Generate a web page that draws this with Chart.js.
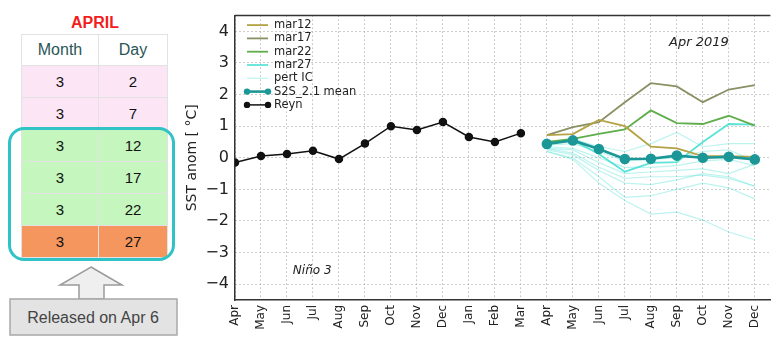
<!DOCTYPE html>
<html>
<head>
<meta charset="utf-8">
<script src="https://cdn.jsdelivr.net/npm/chart.js@4.4.0/dist/chart.umd.min.js"></script>
<style>
  html, body { margin: 0; padding: 0; width: 777px; height: 337px; overflow: hidden; background: #fff; }
  body { position: relative; font-family: "Liberation Sans", Arial, sans-serif; }
  #monthTitle { position: absolute; left: 20px; top: 14px; width: 150px; text-align: center;
    color: #f41c1c; font-weight: bold; font-size: 16px; }
  #dates { position: absolute; left: 21px; top: 34px; border-collapse: collapse; table-layout: fixed; }
  #dates th, #dates td { padding: 0; border: 1px solid #e2e2e2; text-align: center; font-size: 15px; }
  #dates th { height: 30px; font-weight: normal; color: #2b5656; background: #fff; font-size: 16px; }
  #dates td { height: 31px; color: #111; }
  #releaseBox { position: absolute; left: 8px; top: 127px; width: 167px; height: 134px;
    box-sizing: border-box; border: 3.5px solid #2fc3c6; border-radius: 16px; }
  #release { position: absolute; left: 0; top: 260px; }
  #plot { position: absolute; left: 175px; top: 0; }
</style>
</head>
<body>
<div id="monthTitle">APRIL</div>
<table id="dates">
  <colgroup><col style="width:77px"><col style="width:69px"></colgroup>
  <thead><tr><th>Month</th><th>Day</th></tr></thead>
  <tbody id="dateRows"></tbody>
</table>
<div id="releaseBox"></div>
<svg id="release" width="190" height="77">
  <path d="M91 7 L122 25 L104 25 L104 39 L79 39 L79 25 L60 25 Z" fill="#efefef" stroke="#9a9a9a" stroke-width="1.5"/>
  <rect x="10" y="39" width="167" height="36" fill="#e3e3e3" stroke="#a8a8a8" stroke-width="1.5"/>
  <text x="93" y="63" text-anchor="middle" font-family="Liberation Sans, Arial, sans-serif" font-size="16" fill="#444">Released on Apr 6</text>
</svg>
<canvas id="plot" width="602" height="337"></canvas>

<script>
// initial-condition dates feeding the April forecast
const icMonths = [3, 3, 3, 3, 3, 3];
const icDays = [2, 7, 12, 17, 22, 27];
const icRowColors = ['#fce6f6', '#fce6f6', '#c4f6bd', '#c4f6bd', '#c4f6bd', '#f5965e'];

// Niño 3 SST anomaly, Apr 2018 .. Dec 2019
const monthLabels = ['Apr', 'May', 'Jun', 'Jul', 'Aug', 'Sep', 'Oct', 'Nov', 'Dec', 'Jan', 'Feb', 'Mar',
                     'Apr', 'May', 'Jun', 'Jul', 'Aug', 'Sep', 'Oct', 'Nov', 'Dec'];
const yTickValues = [-4, -3, -2, -1, 0, 1, 2, 3, 4];
const reynValues = [-0.15, 0.06, 0.12, 0.22, -0.04, 0.45, 1.0, 0.88, 1.13, 0.66, 0.5, 0.78];

// forecasts start in Apr 2019 (index 12)
const forecastStart = 12;
const meanValues = [0.44, 0.55, 0.28, -0.04, -0.03, 0.07, 0.0, 0.03, -0.05];
const mar12Values = [0.72, 0.75, 1.2, 1.0, 0.35, 0.3, 0.05, 0.05, 0.03];
const mar17Values = [0.72, 0.97, 1.13, 1.76, 2.36, 2.26, 1.76, 2.16, 2.3];
const mar22Values = [0.5, 0.6, 0.76, 0.9, 1.5, 1.1, 1.07, 1.33, 1.02];
const mar27Values = [0.45, 0.55, 0.12, -0.44, -0.16, -0.14, 0.5, 1.07, 1.05];
const pertRuns = [
    [0.45, 0.6, 0.35, 0.2, 0.45, 0.8, 0.35, 0.45, 0.45],
    [0.4, 0.45, 0.2, -0.1, -0.05, 0.0, 0.2, 0.25, -0.1],
    [0.35, 0.3, 0.0, -0.3, -0.3, -0.25, -0.1, -0.05, -0.25],
    [0.3, 0.25, -0.15, -0.5, -0.45, -0.4, -0.35, -0.5, -0.2],
    [0.3, 0.15, -0.3, -0.65, -0.6, -0.6, -0.55, -0.65, -0.9],
    [0.25, 0.1, -0.4, -0.8, -0.85, -0.7, -0.5, -0.6, -0.9],
    [0.2, 0.0, -0.6, -1.25, -1.2, -1.0, -0.8, -0.95, -1.3],
    [0.2, -0.05, -0.8, -1.35, -1.78, -1.72, -1.97, -2.35, -2.6]
];

const tbody = document.getElementById('dateRows');
icMonths.forEach((m, i) => {
    const tr = document.createElement('tr');
    tr.style.background = icRowColors[i];
    tr.innerHTML = '<td>' + m + '</td><td>' + icDays[i] + '</td>';
    tbody.appendChild(tr);
});

const toPoints = (vals, start) => vals.map((v, i) => ({ x: start + i, y: v }));

const lineSet = (label, vals, start, color, width) => ({
    label: label,
    data: toPoints(vals, start),
    borderColor: color,
    backgroundColor: color,
    borderWidth: width,
    pointRadius: 0,
    tension: 0
});

const meanSet = lineSet('S2S_2.1 mean', meanValues, forecastStart, '#1c9797', 2.6);
meanSet.pointRadius = 4;
const reynSet = lineSet('Reyn', reynValues, 0, '#111', 1.5);
reynSet.pointRadius = 3.5;

const datasets = [
    meanSet,
    reynSet,
    lineSet('mar12', mar12Values, forecastStart, '#b3a344', 1.8),
    lineSet('mar17', mar17Values, forecastStart, '#8a9064', 1.8),
    lineSet('mar22', mar22Values, forecastStart, '#5fae4c', 1.8),
    lineSet('mar27', mar27Values, forecastStart, 'rgba(64,222,208,0.85)', 1.8)
];
pertRuns.forEach(run => datasets.push(lineSet('pert IC', run, forecastStart, 'rgba(64,222,208,0.35)', 1.2)));

const legendOrder = ['mar12', 'mar17', 'mar22', 'mar27', 'pert IC', 'S2S_2.1 mean', 'Reyn'];

// legend inside the plot, frame top edge and the two italic labels
const plotExtras = {
    id: 'plotExtras',
    afterDatasetsDraw(chart) {
        const { ctx, chartArea, scales } = chart;
        ctx.save();
        ctx.strokeStyle = '#333';
        ctx.lineWidth = 1.5;
        ctx.beginPath();
        ctx.moveTo(chartArea.left, chartArea.top);
        ctx.lineTo(chartArea.right, chartArea.top);
        ctx.stroke();

        ctx.font = '11.5px "DejaVu Sans"';
        ctx.textBaseline = 'middle';
        legendOrder.forEach((name, i) => {
            const ds = chart.data.datasets.find(d => d.label === name);
            const yy = chartArea.top + 9.5 + i * 13.3;
            const x0 = chartArea.left + 12, x1 = chartArea.left + 33;
            ctx.strokeStyle = ds.borderColor;
            ctx.lineWidth = ds.borderWidth;
            ctx.beginPath();
            ctx.moveTo(x0, yy);
            ctx.lineTo(x1, yy);
            ctx.stroke();
            if (ds.pointRadius > 0) {
                ctx.fillStyle = ds.borderColor;
                [x0, x1].forEach(px => {
                    ctx.beginPath();
                    ctx.arc(px, yy, 3.2, 0, Math.PI * 2);
                    ctx.fill();
                });
            }
            ctx.fillStyle = '#222';
            ctx.textAlign = 'left';
            ctx.fillText(name, chartArea.left + 39, yy);
        });

        ctx.textAlign = 'center';
        ctx.fillStyle = '#222';
        ctx.font = 'italic 13px "DejaVu Sans"';
        ctx.fillText('Apr 2019', scales.x.getPixelForValue(17.85), scales.y.getPixelForValue(3.65));
        ctx.font = 'italic 12px "DejaVu Sans"';
        ctx.fillText('Niño 3', scales.x.getPixelForValue(2.97), scales.y.getPixelForValue(-3.58));
        ctx.restore();
    }
};

const gridStyle = { color: '#9c9c9c', lineWidth: 1, drawTicks: false };
const frameBorder = { display: true, color: '#333', width: 1.5, dash: [1, 3] };

new Chart(document.getElementById('plot'), {
    type: 'line',
    data: { datasets: datasets },
    options: {
        responsive: false,
        animation: false,
        layout: { padding: { top: 3, left: 0, right: 0, bottom: 0 } },
        plugins: { legend: { display: false }, tooltip: { enabled: false } },
        scales: {
            x: {
                type: 'linear',
                min: 0,
                max: 20.6,
                afterFit: s => { s.height = 37; },
                grid: gridStyle,
                border: frameBorder,
                ticks: {
                    stepSize: 1,
                    includeBounds: false,
                    autoSkip: false,
                    maxRotation: 90,
                    minRotation: 90,
                    padding: 5,
                    color: '#222',
                    font: { family: 'DejaVu Sans', size: 12 },
                    callback: v => Number.isInteger(v) ? monthLabels[v] : ''
                }
            },
            y: {
                min: -4.5,
                max: 4.5,
                afterFit: s => { s.width = 60; },
                afterBuildTicks: s => { s.ticks = yTickValues.map(v => ({ value: v })); },
                grid: gridStyle,
                border: frameBorder,
                title: {
                    display: true,
                    text: 'SST anom [ °C]',
                    color: '#222',
                    font: { family: 'DejaVu Sans', size: 14 },
                    padding: { top: 9, bottom: 0 }
                },
                ticks: {
                    padding: 6,
                    color: '#222',
                    font: { family: 'DejaVu Sans', size: 16 },
                    callback: v => v < 0 ? '\u2212' + Math.abs(v) : String(v)
                }
            }
        }
    },
    plugins: [plotExtras]
});
</script>
</body>
</html>
